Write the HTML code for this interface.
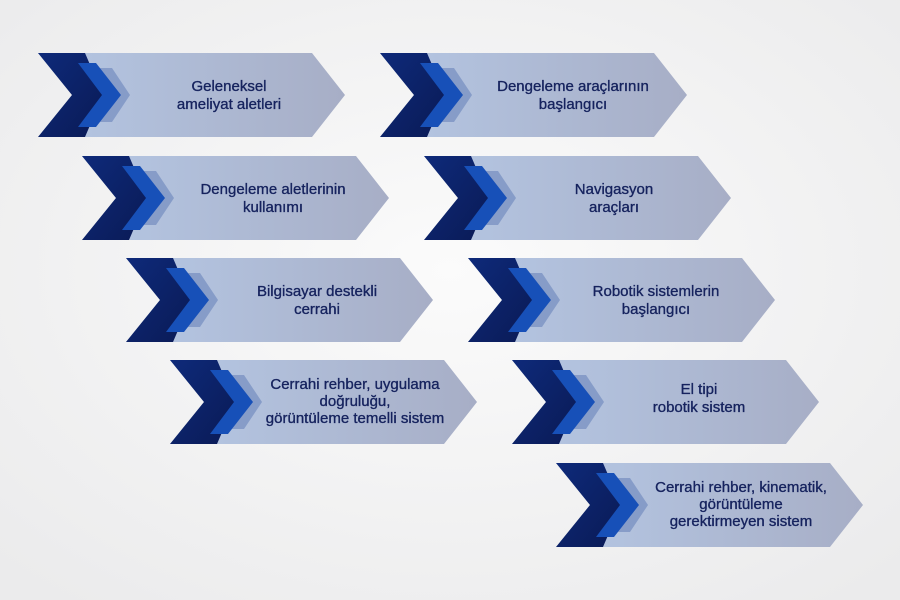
<!DOCTYPE html>
<html><head><meta charset="utf-8"><style>
html,body{margin:0;padding:0;width:900px;height:600px;overflow:hidden;background:#f3f3f4}
svg{display:block}
text{font-family:"Liberation Sans",sans-serif;font-size:15px;fill:#16235e;stroke:#16235e;stroke-width:0.35;text-anchor:middle}
</style></head><body>
<svg width="900" height="600" viewBox="0 0 900 600">
<defs>
<radialGradient id="bg" cx="50%" cy="45%" r="70%"><stop offset="0" stop-color="#fbfbfb"/><stop offset="1" stop-color="#ebebec"/></radialGradient>
<linearGradient id="body" x1="0" x2="1" y1="0" y2="0"><stop offset="0" stop-color="#b5c7e4"/><stop offset="1" stop-color="#a7aec6"/></linearGradient>
<linearGradient id="dark" x1="0" x2="1" y1="0" y2="1"><stop offset="0" stop-color="#0e2a7a"/><stop offset="1" stop-color="#0a1a55"/></linearGradient>
<g id="arr">
<polygon points="0,0 274,0 307,42 274,84 0,84 34,42" fill="url(#body)"/>
<polygon points="0,0 47,0 65,42 47,84 0,84 34,42" fill="url(#dark)"/>
<polygon points="62,15 74,15 92,42 74,69 62,69 72,42" fill="#7f95c4" opacity="0.85"/>
<polygon points="40,10 58,10 83,42 58,74 40,74 64,42" fill="#1750b8"/>
</g>
</defs>
<rect width="900" height="600" fill="url(#bg)"/>
<use href="#arr" x="38" y="53"/>
<use href="#arr" x="82" y="156"/>
<use href="#arr" x="126" y="258"/>
<use href="#arr" x="170" y="360"/>
<use href="#arr" x="380" y="53"/>
<use href="#arr" x="424" y="156"/>
<use href="#arr" x="468" y="258"/>
<use href="#arr" x="512" y="360"/>
<use href="#arr" x="556" y="463"/>
<text x="229" y="91">Geleneksel</text><text x="229" y="109">ameliyat aletleri</text>
<text x="273" y="194">Dengeleme aletlerinin</text><text x="273" y="212">kullanımı</text>
<text x="317" y="296">Bilgisayar destekli</text><text x="317" y="314">cerrahi</text>
<text x="355" y="389">Cerrahi rehber, uygulama</text><text x="355" y="406">doğruluğu,</text><text x="355" y="423">görüntüleme temelli sistem</text>
<text x="573" y="91">Dengeleme araçlarının</text><text x="573" y="109">başlangıcı</text>
<text x="614" y="194">Navigasyon</text><text x="614" y="212">araçları</text>
<text x="656" y="296">Robotik sistemlerin</text><text x="656" y="314">başlangıcı</text>
<text x="699" y="394">El tipi</text><text x="699" y="412">robotik sistem</text>
<text x="741" y="492">Cerrahi rehber, kinematik,</text><text x="741" y="509">görüntüleme</text><text x="741" y="526">gerektirmeyen sistem</text>
</svg>
</body></html>
